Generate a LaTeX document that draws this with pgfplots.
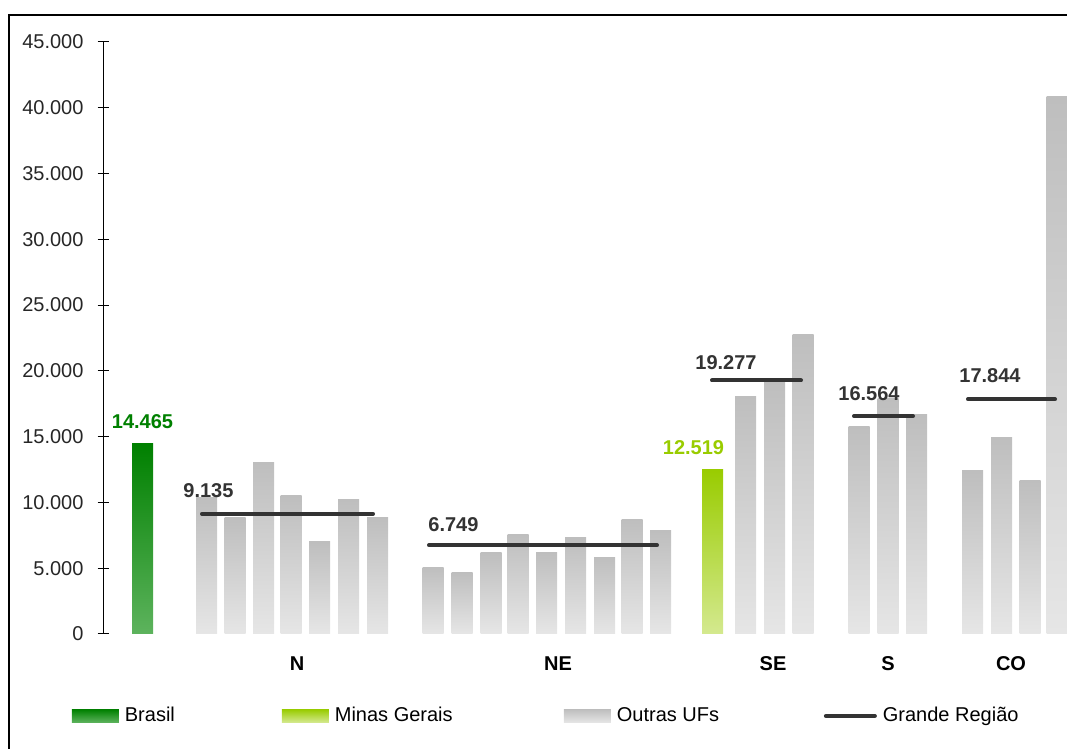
\documentclass[border=0pt]{standalone}
\usepackage{pgfplots}
\pgfplotsset{compat=1.18}
\usepackage{fontspec}
\setmainfont{Liberation Sans}

\definecolor{brgreen}{HTML}{008000}
\definecolor{brgreenlt}{HTML}{5DB35D}
\definecolor{mggreen}{HTML}{99CC00}
\definecolor{mggreenlt}{HTML}{D4E98F}
\definecolor{ufgray}{HTML}{BEBEBE}
\definecolor{ufgraylt}{HTML}{E6E6E6}
\definecolor{linegray}{HTML}{333333}

% x positions are layout slots along the axis (1 unit = 1 px of the original)
\pgfplotstableread{
x      v
206.5  10340
235    8820
263.5  13070
291    10490
319.5  7000
348.5  10190
377.5  8890
433    5090
462    4640
491    6160
518    7600
546.5  6160
575.5  7300
604.5  5850
632    8740
660.5  7830
745.5  18090
774.5  19200
803    22730
859    15810
888    17900
916.5  16650
972.5  12390
1001.5 14970
1030   11630
1057   40820
}\outras

\begin{document}
\begin{tikzpicture}
\useasboundingbox (0,0) rectangle (533.5pt,374.5pt);
\draw[line width=1pt] (4.7pt,-2pt) -- (4.7pt,367pt) -- (540pt,367pt);
\begin{axis}[
  at={(51.5pt,57.5pt)}, anchor=south west,
  scale only axis, width=482pt, height=296pt,
  xmin=103, xmax=1067, ymin=0, ymax=45000,
  axis y line*=left, axis x line*=bottom,
  x axis line style={draw=none},
  xtick={297,558,773,888,1011},
  xticklabels={N,NE,SE,S,CO},
  xticklabel style={font=\bfseries, yshift=-5pt},
  ytick={0,5000,...,45000},
  scaled y ticks=false,
  /pgf/number format/.cd, 1000 sep={.}, assume math mode=true, /pgfplots/.cd,
  tick align=center, major tick length=5.5pt,
  xtick style={draw=none},
  ytick style={black, line width=0.5pt},
  y axis line style={black, line width=0.5pt},
  yticklabel style={text=black!85, xshift=-3.5pt},
  legend columns=4,
  legend style={draw=none, fill=none, inner sep=0pt,
    at={(axis cs:71.5,-6233)}, anchor=west,
    nodes={inner sep=0.5pt}, cells={anchor=west},
    /tikz/every odd column/.append style={column sep=2.5pt}},
]
\addplot[ybar, bar width=21, bar shift=0pt, draw=none,
  top color=brgreen, bottom color=brgreenlt,
  nodes near coords, nodes near coords style={font=\bfseries, text=brgreen, anchor=south, yshift=4pt},
  legend image code/.code={\fill[top color=brgreen, bottom color=brgreenlt] (0pt,-3.25pt) rectangle (23.5pt,3.25pt);}]
  coordinates {(142.5,14465)};
\addlegendentry{\makebox[78pt][l]{Brasil}}
\addplot[ybar, bar width=21, bar shift=0pt, draw=none,
  top color=mggreen, bottom color=mggreenlt,
  nodes near coords, nodes near coords style={font=\bfseries, text=mggreen, anchor=south, yshift=4pt, xshift=-9.5pt},
  legend image code/.code={\fill[top color=mggreen, bottom color=mggreenlt] (0pt,-3.25pt) rectangle (23.5pt,3.25pt);}]
  coordinates {(712.5,12519)};
\addlegendentry{\makebox[114pt][l]{Minas Gerais}}
% one plot per bar so that every bar gets its own shading
\pgfplotsinvokeforeach{0,...,25}{
\addplot[ybar, bar width=21, bar shift=0pt, draw=none, forget plot,
  top color=ufgray, bottom color=ufgraylt,
  restrict expr to domain={\coordindex}{#1:#1}]
  table[x=x, y=v] {\outras};
}
\addlegendimage{draw=none, legend image code/.code={\fill[top color=ufgray, bottom color=ufgraylt] (0pt,-3.25pt) rectangle (23.5pt,3.25pt);}}
\addlegendentry{\makebox[103pt][l]{Outras UFs}}
% Grande Regiao averages
\addplot[linegray, line width=2pt, line cap=round,
  legend image code/.code={\draw[linegray, line width=2pt, line cap=round] (0.5pt,0pt) -- (25pt,0pt);}]
  coordinates {(202,9135) (373,9135)};
\addlegendentry{Grande Região}
\addplot[linegray, line width=2pt, line cap=round, forget plot] coordinates {(429,6749) (657,6749)};
\addplot[linegray, line width=2pt, line cap=round, forget plot] coordinates {(712,19277) (801,19277)};
\addplot[linegray, line width=2pt, line cap=round, forget plot] coordinates {(854,16564) (913,16564)};
\addplot[linegray, line width=2pt, line cap=round, forget plot] coordinates {(968,17844) (1055,17844)};
\begin{scope}[every node/.style={anchor=base west, inner sep=0pt, font=\bfseries, text=linegray}]
\node at (axis cs:183,10413) {9.135};
\node at (axis cs:428,7753) {6.749};
\node at (axis cs:695,20143) {19.277};
\node at (axis cs:838,17786) {16.564};
\node at (axis cs:959,19079) {17.844};
\end{scope}
\end{axis}
\end{tikzpicture}
\end{document}
